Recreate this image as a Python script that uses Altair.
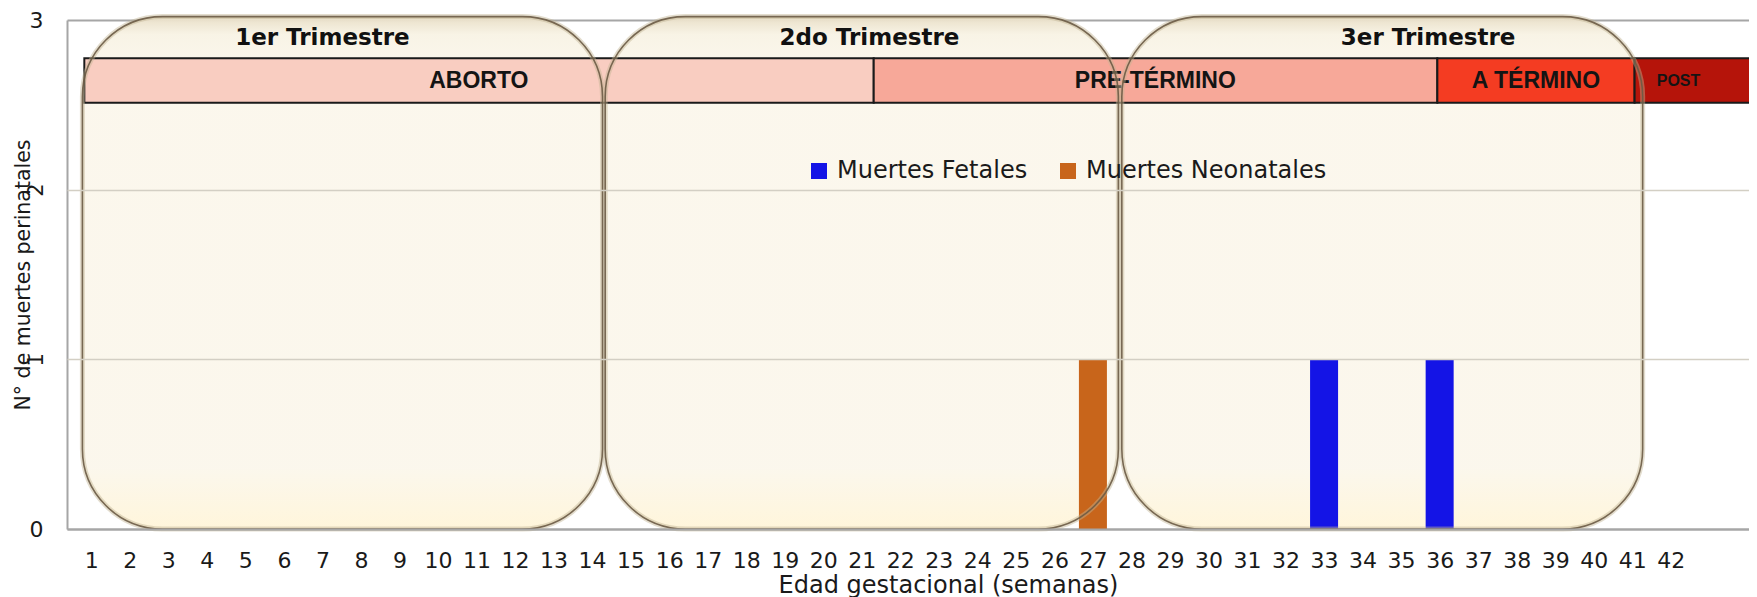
import altair as alt
import pandas as pd

# ---------------- data ----------------
weeks = list(range(1, 43))
fetales = [0, 0, 0, 0, 0, 0, 0, 0, 0, 0,
           0, 0, 0, 0, 0, 0, 0, 0, 0, 0,
           0, 0, 0, 0, 0, 0, 0, 0, 0, 0,
           0, 0, 1, 0, 0, 1, 0, 0, 0, 0,
           0, 0]
neonatales = [0, 0, 0, 0, 0, 0, 0, 0, 0, 0,
              0, 0, 0, 0, 0, 0, 0, 0, 0, 0,
              0, 0, 0, 0, 0, 0, 1, 0, 0, 0,
              0, 0, 0, 0, 0, 0, 0, 0, 0, 0,
              0, 0]
series_names = ["Muertes Fetales", "Muertes Neonatales"]
series_colors = ["#1414E6", "#C8651B"]

trimestres = ["1er Trimestre", "2do Trimestre", "3er Trimestre"]
trim_start = [0.77, 14.34, 27.75]
trim_end = [14.27, 27.66, 41.27]
trim_label_at = [7.0, 21.2, 35.7]

etapas = ["ABORTO", "PRE-TÉRMINO", "A TÉRMINO", "POST"]
etapa_start = [0.82, 21.31, 35.94, 41.06]
etapa_end = [21.31, 35.94, 41.06, 44.6]
etapa_label_at = [11.06, 28.62, 38.5, 42.2]
etapa_colors = ["#F9CDC1", "#F7A899", "#F43C22", "#B5140A"]

y_ticks = [0, 1, 2, 3]
x_title = "Edad gestacional (semanas)"
y_title = "N° de muertes perinatales"

# ---------------- layout ----------------
W, H = 1682, 509
TXT = "#1A1A1A"
RADIUS = 80
xscale = alt.Scale(domain=[0.5, 43.9], nice=False, zero=False)
yscale = alt.Scale(domain=[0, 3], nice=False)

bars_df = pd.DataFrame({"week": weeks, series_names[0]: fetales, series_names[1]: neonatales})
trim_df = pd.DataFrame({"trim": trimestres, "start": trim_start, "end": trim_end, "label_at": trim_label_at})
etapa_df = pd.DataFrame({"etapa": etapas, "start": etapa_start, "end": etapa_end, "label_at": etapa_label_at})
ticks_df = pd.DataFrame({"v": y_ticks})
weeks_df = pd.DataFrame({"week": weeks})

axisX = alt.Axis(values=weeks, format="d", orient="bottom", title=x_title, titleFont="DejaVu Sans",
                 titleFontSize=24, titleFontWeight="normal", titleColor=TXT, titleX=881, titleY=63,
                 titleBaseline="alphabetic",
                 labelFont="DejaVu Sans", labelFontSize=22, labelColor=TXT, labelPadding=21,
                 labelFlush=False, labelOverlap=False, ticks=False, tickSize=0,
                 domain=True, domainColor="#A6A6A6", domainWidth=2, grid=False, zindex=1)

axisA = alt.Axis(values=[0, 3], format="d", orient="left", title=y_title, titleFont="DejaVu Sans",
                 titleFontSize=20.5, titleFontWeight="normal", titleColor=TXT, titleAngle=270,
                 titleX=-44, titleY=H / 2, titleAlign="center", titleBaseline="middle",
                 labelFont="DejaVu Sans", labelFontSize=22, labelColor=TXT, labelPadding=24,
                 ticks=False, tickSize=0, domain=True, domainColor="#A6A6A6", domainWidth=2,
                 grid=True, gridColor="#A6A6A6", gridWidth=2, zindex=0)

axisB = alt.Axis(values=[1, 2], format="d", orient="left", title="", labelAngle=270,
                 labelAlign="center", labelBaseline="middle", labelPadding=31,
                 labelFont="DejaVu Sans", labelFontSize=21, labelColor=TXT,
                 ticks=False, tickSize=0, domain=False, grid=True, gridColor="#D3CFC4",
                 gridWidth=1.5, zindex=1)

axis_a_layer = alt.Chart(ticks_df).mark_point(opacity=0).encode(
    y=alt.Y("v:Q", scale=yscale, axis=axisA))
axis_b_layer = alt.Chart(ticks_df).mark_point(opacity=0).encode(
    y=alt.Y("v:Q", scale=yscale, axis=axisB))
axis_x_layer = alt.Chart(weeks_df).mark_point(opacity=0).encode(
    x=alt.X("week:Q", scale=xscale, axis=axisX))

box_grad = alt.Gradient(
    gradient="linear", x1=0, x2=0, y1=0, y2=1,
    stops=[alt.GradientStop(color="#E8DEC6", offset=0),
           alt.GradientStop(color="#F8F3E5", offset=0.035),
           alt.GradientStop(color="#FBF7EC", offset=0.1),
           alt.GradientStop(color="#FBF7EC", offset=0.88),
           alt.GradientStop(color="#FFF5DA", offset=1)])

box_enc = dict(
    x=alt.X("start:Q", scale=xscale, axis=None), x2="end:Q",
    y=alt.YDatum(0, scale=yscale, axis=None), y2=alt.Y2Datum(3.02))

box_fill = alt.Chart(trim_df).mark_rect(cornerRadius=RADIUS, fill=box_grad, fillOpacity=0.97).encode(**box_enc)
box_halo = alt.Chart(trim_df).mark_rect(cornerRadius=RADIUS, fillOpacity=0, stroke="#C2B392",
                                        strokeWidth=5, strokeOpacity=0.45).encode(**box_enc)
box_line = alt.Chart(trim_df).mark_rect(cornerRadius=RADIUS, fillOpacity=0, stroke="#6B5B45",
                                        strokeWidth=1.6, strokeOpacity=0.9).encode(**box_enc)

bands = alt.Chart(etapa_df).mark_rect(stroke="#1A1A1A", strokeWidth=2).encode(
    x=alt.X("start:Q", scale=xscale, axis=None), x2="end:Q",
    y=alt.YDatum(2.513, scale=yscale, axis=None), y2=alt.Y2Datum(2.774),
    fill=alt.Fill("etapa:N", scale=alt.Scale(domain=etapas, range=etapa_colors), legend=None))

band_text = alt.Chart(etapa_df).mark_text(font="Liberation Sans", fontWeight="bold", color="#141414",
                                          baseline="middle").encode(
    x=alt.X("label_at:Q", scale=xscale, axis=None),
    y=alt.YDatum(2.643, scale=yscale, axis=None),
    text="etapa:N",
    size=alt.when(alt.datum.etapa == "POST").then(alt.value(16)).otherwise(alt.value(23)))

trim_text = alt.Chart(trim_df).mark_text(font="DejaVu Sans", fontWeight="bold", fontSize=23,
                                         color="#111111", baseline="middle").encode(
    x=alt.X("label_at:Q", scale=xscale, axis=None),
    y=alt.YDatum(2.895, scale=yscale, axis=None),
    text="trim:N")

bars = alt.Chart(bars_df).transform_fold(series_names, as_=["serie", "value"]).transform_filter(
    "datum.value > 0").mark_bar(size=28).encode(
    x=alt.X("week:Q", scale=xscale, axis=None),
    y=alt.Y("value:Q", scale=yscale, axis=None),
    color=alt.Color("serie:N", scale=alt.Scale(domain=series_names, range=series_colors),
                    legend=alt.Legend(title=None, orient="none", legendX=740, legendY=139,
                                      direction="horizontal", symbolType="square", symbolSize=256,
                                      symbolStrokeWidth=0, symbolOpacity=1, labelFont="DejaVu Sans",
                                      labelFontSize=24, labelColor=TXT, labelOffset=6,
                                      columnPadding=28, padding=0, labelLimit=400)))

chart = alt.layer(
    axis_a_layer, axis_x_layer, box_fill, bands, band_text, trim_text, bars, box_halo, box_line,
    axis_b_layer
).resolve_axis(x="independent", y="independent").properties(
    width=W, height=H,
    autosize=alt.AutoSizeParams(type="none"),
    padding={"left": 59, "top": 12, "right": 0, "bottom": 68},
    background="white",
).configure_view(strokeWidth=0)

chart.save("out.html", embed_options={"renderer": "svg", "actions": False})
